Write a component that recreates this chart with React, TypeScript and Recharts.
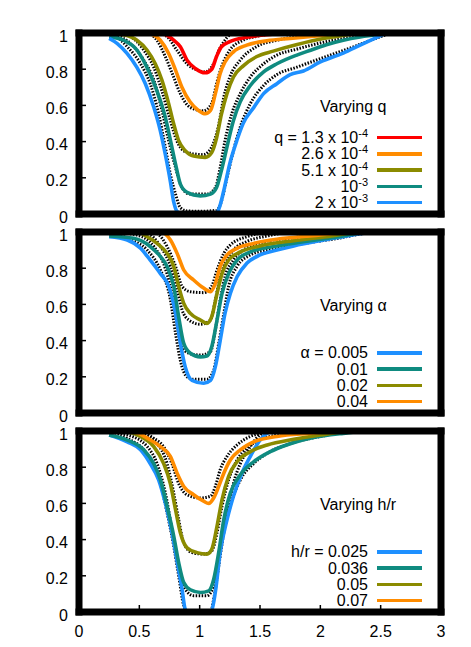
import React from 'react';
import { LineChart, Line, XAxis, YAxis, Legend } from 'recharts';

type Pt = [number, number];

const FONT = '"Liberation Sans", Arial, sans-serif';

const xTicks = [0, 0.5, 1, 1.5, 2, 2.5, 3];
const yTicks = [0, 0.2, 0.4, 0.6, 0.8, 1];

// ---- panel 1: varying q ----
const qTitle = 'Varying q';
const qLabels: [string, string][] = [
  ['q = 1.3 x 10', '-4'],
  ['2.6 x 10', '-4'],
  ['5.1 x 10', '-4'],
  ['10', '-3'],
  ['2 x 10', '-3'],
];
const qColors = ['#ff0000', '#ff8c00', '#8b8b00', '#0f8b80', '#1e90ff'];

const qRed: Pt[] = [[0.25, 1], [0.6, 1], [0.7, 0.995], [0.785, 0.96], [0.84, 0.924], [0.895, 0.85], [0.964, 0.804], [1.046, 0.78], [1.1, 0.8], [1.14, 0.87], [1.18, 0.924], [1.25, 0.952], [1.39, 0.976], [1.6, 0.993], [1.8, 1], [3, 1]];
const qOrange: Pt[] = [[0.25, 1], [0.55, 1], [0.6, 0.995], [0.674, 0.96], [0.743, 0.887], [0.8, 0.795], [0.853, 0.7], [0.92, 0.62], [0.99, 0.572], [1.046, 0.554], [1.09, 0.572], [1.13, 0.665], [1.17, 0.776], [1.21, 0.84], [1.28, 0.896], [1.39, 0.933], [1.557, 0.957], [1.75, 0.97], [2.0, 0.985], [2.25, 1], [3, 1]];
const qOlive: Pt[] = [[0.25, 1], [0.37, 0.99], [0.48, 0.96], [0.563, 0.906], [0.632, 0.83], [0.687, 0.74], [0.743, 0.61], [0.784, 0.5], [0.826, 0.405], [0.88, 0.35], [0.95, 0.32], [1.046, 0.313], [1.1, 0.34], [1.14, 0.42], [1.18, 0.55], [1.226, 0.665], [1.28, 0.757], [1.364, 0.82], [1.474, 0.87], [1.61, 0.9], [1.8, 0.935], [2.05, 0.972], [2.3, 0.995], [2.5, 1], [3, 1]];
const qTeal: Pt[] = [[0.25, 0.98], [0.37, 0.96], [0.48, 0.906], [0.563, 0.81], [0.646, 0.68], [0.715, 0.535], [0.757, 0.41], [0.8, 0.276], [0.84, 0.165], [0.895, 0.12], [1.005, 0.1], [1.09, 0.11], [1.14, 0.146], [1.18, 0.24], [1.226, 0.37], [1.28, 0.517], [1.336, 0.62], [1.42, 0.71], [1.53, 0.785], [1.64, 0.83], [1.805, 0.878], [1.92, 0.905], [2.05, 0.935], [2.19, 0.96], [2.33, 0.978], [2.5, 0.993], [2.6, 1], [3, 1]];
const qBlue: Pt[] = [[0.25, 0.97], [0.315, 0.943], [0.398, 0.887], [0.48, 0.81], [0.55, 0.72], [0.62, 0.59], [0.674, 0.46], [0.715, 0.33], [0.757, 0.18], [0.784, 0.07], [0.81, 0.017], [0.84, 0.003], [1.0, 0], [1.14, 0.005], [1.17, 0.05], [1.2, 0.13], [1.25, 0.28], [1.31, 0.41], [1.36, 0.5], [1.45, 0.59], [1.53, 0.665], [1.64, 0.72], [1.75, 0.77], [1.86, 0.79], [2.0, 0.84], [2.19, 0.889], [2.33, 0.933], [2.5, 0.985], [2.55, 1], [3, 1]];

const qRedFit: Pt[] = [[0.25, 1], [0.65, 1], [0.73, 0.98], [0.81, 0.906], [0.895, 0.83], [0.98, 0.795], [1.046, 0.785], [1.115, 0.83], [1.16, 0.906], [1.2, 0.95], [1.25, 0.99], [1.3, 1], [3, 1]];
const qOrangeFit: Pt[] = [[0.25, 1], [0.56, 1], [0.646, 0.96], [0.715, 0.87], [0.784, 0.757], [0.84, 0.665], [0.92, 0.59], [1.03, 0.57], [1.1, 0.61], [1.14, 0.72], [1.18, 0.81], [1.25, 0.906], [1.36, 0.96], [1.5, 0.985], [1.7, 1], [3, 1]];
const qOliveFit: Pt[] = [[0.25, 1], [0.33, 0.995], [0.425, 0.98], [0.536, 0.906], [0.62, 0.81], [0.687, 0.68], [0.757, 0.517], [0.81, 0.405], [0.895, 0.34], [1.03, 0.328], [1.1, 0.37], [1.16, 0.5], [1.2, 0.646], [1.25, 0.757], [1.336, 0.85], [1.47, 0.924], [1.64, 0.96], [1.9, 0.985], [2.2, 1], [3, 1]];
const qTealFit: Pt[] = [[0.25, 1], [0.3, 0.99], [0.425, 0.943], [0.536, 0.85], [0.62, 0.74], [0.687, 0.572], [0.743, 0.405], [0.8, 0.257], [0.853, 0.146], [0.92, 0.11], [1.06, 0.11], [1.13, 0.146], [1.17, 0.257], [1.21, 0.405], [1.266, 0.554], [1.336, 0.665], [1.42, 0.757], [1.53, 0.83], [1.64, 0.878], [1.8, 0.91], [2.0, 0.945], [2.3, 0.98], [2.6, 1], [3, 1]];
const qBlueFit: Pt[] = [[0.25, 1], [0.29, 0.99], [0.4, 0.924], [0.51, 0.83], [0.59, 0.72], [0.66, 0.554], [0.715, 0.37], [0.757, 0.22], [0.8, 0.11], [0.84, 0.035], [0.895, 0.017], [1.0, 0.015], [1.14, 0.02], [1.18, 0.07], [1.226, 0.2], [1.28, 0.35], [1.336, 0.48], [1.42, 0.61], [1.53, 0.71], [1.64, 0.77], [1.8, 0.81], [2.05, 0.87], [2.3, 0.93], [2.5, 0.98], [2.6, 1], [3, 1]];

// ---- panel 2: varying alpha ----
const aTitle = 'Varying α';
const aLabels: [string, string][] = [
  ['α = 0.005', ''],
  ['0.01', ''],
  ['0.02', ''],
  ['0.04', ''],
];
const aColors = ['#1e90ff', '#0f8b80', '#8b8b00', '#ff8c00'];

const aBlue: Pt[] = [[0.25, 0.974], [0.4, 0.956], [0.51, 0.91], [0.59, 0.845], [0.675, 0.77], [0.744, 0.7], [0.8, 0.55], [0.84, 0.385], [0.88, 0.256], [0.937, 0.18], [1.033, 0.164], [1.09, 0.18], [1.13, 0.256], [1.17, 0.4], [1.21, 0.55], [1.254, 0.66], [1.31, 0.753], [1.39, 0.827], [1.5, 0.873], [1.64, 0.9], [1.78, 0.923], [2.0, 0.952], [2.19, 0.974], [2.33, 0.99], [2.45, 1], [3, 1]];
const aTeal: Pt[] = [[0.25, 0.978], [0.454, 0.965], [0.59, 0.92], [0.675, 0.864], [0.73, 0.81], [0.785, 0.7], [0.826, 0.532], [0.868, 0.385], [0.923, 0.33], [1.006, 0.31], [1.06, 0.315], [1.1, 0.366], [1.144, 0.514], [1.185, 0.66], [1.24, 0.77], [1.31, 0.845], [1.42, 0.89], [1.64, 0.923], [1.917, 0.952], [2.19, 0.978], [2.4, 1], [3, 1]];
const aOlive: Pt[] = [[0.25, 1], [0.48, 1], [0.565, 0.974], [0.647, 0.937], [0.73, 0.882], [0.785, 0.81], [0.826, 0.7], [0.868, 0.606], [0.923, 0.55], [1.006, 0.514], [1.06, 0.495], [1.1, 0.532], [1.144, 0.66], [1.185, 0.77], [1.24, 0.845], [1.337, 0.89], [1.5, 0.923], [1.78, 0.952], [2.05, 0.974], [2.35, 1], [3, 1]];
const aOrange: Pt[] = [[0.25, 1], [0.675, 1], [0.758, 0.956], [0.813, 0.882], [0.868, 0.79], [0.95, 0.735], [1.033, 0.69], [1.09, 0.67], [1.13, 0.716], [1.17, 0.81], [1.227, 0.873], [1.31, 0.91], [1.447, 0.937], [1.64, 0.96], [1.917, 0.978], [2.3, 1], [3, 1]];

const aBlueFit: Pt[] = [[0.25, 1], [0.4, 0.965], [0.565, 0.9], [0.675, 0.79], [0.758, 0.624], [0.8, 0.44], [0.84, 0.29], [0.895, 0.2], [0.95, 0.186], [1.06, 0.186], [1.116, 0.237], [1.158, 0.385], [1.2, 0.55], [1.24, 0.7], [1.31, 0.81], [1.42, 0.873], [1.56, 0.9], [1.8, 0.93], [2.1, 0.96], [2.5, 1], [3, 1]];
const aTealFit: Pt[] = [[0.25, 1], [0.48, 0.983], [0.62, 0.92], [0.7, 0.827], [0.77, 0.66], [0.813, 0.495], [0.854, 0.366], [0.91, 0.33], [1.006, 0.32], [1.09, 0.34], [1.13, 0.46], [1.17, 0.624], [1.21, 0.753], [1.28, 0.845], [1.36, 0.9], [1.5, 0.94], [1.8, 0.97], [2.2, 1], [3, 1]];
const aOliveFit: Pt[] = [[0.25, 1], [0.5, 1], [0.565, 0.993], [0.675, 0.92], [0.758, 0.81], [0.813, 0.68], [0.854, 0.57], [0.91, 0.514], [1.006, 0.49], [1.09, 0.514], [1.13, 0.624], [1.17, 0.753], [1.227, 0.845], [1.28, 0.9], [1.39, 0.947], [1.56, 0.978], [1.8, 1], [3, 1]];
const aOrangeFit: Pt[] = [[0.25, 1], [0.6, 1], [0.65, 0.99], [0.73, 0.92], [0.8, 0.81], [0.854, 0.7], [0.923, 0.67], [1.033, 0.665], [1.1, 0.7], [1.144, 0.79], [1.2, 0.882], [1.254, 0.928], [1.39, 0.974], [1.5, 0.993], [1.6, 1], [3, 1]];

// ---- panel 3: varying h/r ----
const hTitle = 'Varying h/r';
const hLabels: [string, string][] = [
  ['h/r = 0.025', ''],
  ['0.036', ''],
  ['0.05', ''],
  ['0.07', ''],
];
const hColors = ['#1e90ff', '#0f8b80', '#8b8b00', '#ff8c00'];

const hBlue: Pt[] = [[0.25, 0.978], [0.4, 0.94], [0.51, 0.896], [0.59, 0.82], [0.66, 0.73], [0.716, 0.6], [0.77, 0.44], [0.81, 0.29], [0.854, 0.126], [0.88, 0.016], [0.9, 0], [1.08, 0], [1.1, 0.01], [1.13, 0.11], [1.17, 0.33], [1.227, 0.51], [1.28, 0.64], [1.35, 0.767], [1.42, 0.86], [1.5, 0.95], [1.56, 0.987], [1.6, 1], [3, 1]];
const hTeal: Pt[] = [[0.25, 0.978], [0.4, 0.95], [0.537, 0.896], [0.62, 0.82], [0.675, 0.73], [0.73, 0.584], [0.785, 0.42], [0.826, 0.273], [0.868, 0.163], [0.923, 0.123], [1.006, 0.108], [1.075, 0.117], [1.116, 0.18], [1.158, 0.33], [1.2, 0.51], [1.254, 0.657], [1.337, 0.758], [1.447, 0.83], [1.585, 0.886], [1.72, 0.923], [1.917, 0.96], [2.19, 0.987], [2.4, 1], [3, 1]];
const hOlive: Pt[] = [[0.25, 1], [0.4, 0.995], [0.51, 0.97], [0.62, 0.914], [0.702, 0.82], [0.757, 0.71], [0.8, 0.566], [0.84, 0.438], [0.895, 0.355], [0.978, 0.328], [1.06, 0.32], [1.1, 0.346], [1.144, 0.474], [1.185, 0.62], [1.24, 0.75], [1.31, 0.83], [1.42, 0.886], [1.56, 0.923], [1.78, 0.954], [2.0, 0.978], [2.3, 1], [3, 1]];
const hOrange: Pt[] = [[0.25, 1], [0.45, 0.995], [0.592, 0.95], [0.675, 0.914], [0.757, 0.86], [0.813, 0.767], [0.868, 0.694], [0.95, 0.648], [1.033, 0.612], [1.075, 0.6], [1.116, 0.63], [1.158, 0.694], [1.2, 0.767], [1.254, 0.84], [1.337, 0.896], [1.447, 0.94], [1.64, 0.97], [1.917, 0.987], [2.2, 1], [3, 1]];

const hBlueFit: Pt[] = [[0.25, 1], [0.4, 0.96], [0.565, 0.87], [0.675, 0.71], [0.73, 0.548], [0.785, 0.364], [0.826, 0.2], [0.868, 0.035], [0.9, 0], [1.09, 0], [1.116, 0.07], [1.158, 0.255], [1.2, 0.44], [1.24, 0.584], [1.28, 0.71], [1.337, 0.82], [1.42, 0.914], [1.5, 0.978], [1.6, 1], [3, 1]];
const hTealFit: Pt[] = [[0.25, 1], [0.4, 0.98], [0.565, 0.914], [0.647, 0.82], [0.716, 0.657], [0.77, 0.456], [0.826, 0.236], [0.88, 0.126], [0.95, 0.09], [1.06, 0.09], [1.116, 0.145], [1.158, 0.29], [1.21, 0.474], [1.27, 0.62], [1.337, 0.73], [1.447, 0.82], [1.56, 0.877], [1.75, 0.93], [2.0, 0.97], [2.3, 1], [3, 1]];
const hOliveFit: Pt[] = [[0.25, 1], [0.51, 0.99], [0.647, 0.93], [0.73, 0.82], [0.785, 0.657], [0.826, 0.51], [0.868, 0.383], [0.937, 0.328], [1.033, 0.32], [1.1, 0.337], [1.144, 0.438], [1.185, 0.584], [1.24, 0.73], [1.31, 0.84], [1.39, 0.905], [1.5, 0.95], [1.7, 0.985], [1.9, 1], [3, 1]];
const hOrangeFit: Pt[] = [[0.25, 1], [0.53, 0.99], [0.62, 0.96], [0.7, 0.914], [0.77, 0.82], [0.826, 0.71], [0.895, 0.648], [1.006, 0.63], [1.09, 0.64], [1.13, 0.694], [1.17, 0.786], [1.227, 0.86], [1.31, 0.923], [1.42, 0.97], [1.53, 0.99], [1.65, 1], [3, 1]];

const panels = [
  { title: qTitle, labels: qLabels, colors: qColors, curves: [qRed, qOrange, qOlive, qTeal, qBlue], fits: [qRedFit, qOrangeFit, qOliveFit, qTealFit, qBlueFit] },
  { title: aTitle, labels: aLabels, colors: aColors, curves: [aBlue, aTeal, aOlive, aOrange], fits: [aBlueFit, aTealFit, aOliveFit, aOrangeFit] },
  { title: hTitle, labels: hLabels, colors: hColors, curves: [hBlue, hTeal, hOlive, hOrange], fits: [hBlueFit, hTealFit, hOliveFit, hOrangeFit] },
];

const toRows = (pts: Pt[]) => pts.map(([x, y]) => ({ x, y }));

const W = 471;
const TOP_PAD = 33;
const PLOT_H = 181;
const STEP = 199;

const frame = { stroke: '#000', strokeWidth: 7, strokeLinecap: 'square' as const };
const tickMark = { stroke: '#000', strokeWidth: 1.5 };
const tickText = { fill: '#000', fontSize: 16, fontFamily: FONT };

// left-axis labels sit a touch below their tick, as in gnuplot
function YTick(props: any) {
  const { x, y, payload } = props;
  return (
    <text x={x} y={y + 3} dy="0.355em" textAnchor="end" fill="#000" fontSize={16} fontFamily={FONT}>
      {payload.value}
    </text>
  );
}

function Key({ title, labels, colors, height }: { title: string; labels: [string, string][]; colors: string[]; height: number }) {
  return (
    <div style={{ position: 'relative', width: W, height, fontFamily: FONT, fontSize: 16, color: '#000', pointerEvents: 'none' }}>
      <div style={{ position: 'absolute', left: 320, top: 99, lineHeight: '16px', whiteSpace: 'nowrap' }}>{title}</div>
      {labels.map(([base, sup], i) => {
        const cy = 202.5 - (labels.length - 1 - i) * 16.2;
        return (
          <React.Fragment key={i}>
            <div style={{ position: 'absolute', right: W - 368, top: cy - 7.5, lineHeight: '16px', whiteSpace: 'nowrap', textAlign: 'right' }}>
              {base}
              {sup && <span style={{ fontSize: 11, verticalAlign: '6px', lineHeight: 0 }}>{sup}</span>}
            </div>
            <div style={{ position: 'absolute', left: 377, width: 45, top: cy - 1.8, height: 3.6, background: colors[i] }} />
          </React.Fragment>
        );
      })}
    </div>
  );
}

function Panel({ index }: { index: number }) {
  const p = panels[index];
  const last = index === panels.length - 1;
  const bottomH = last ? 35 : 16;
  const height = TOP_PAD + PLOT_H + bottomH;
  return (
    <div style={{ position: 'absolute', left: 0, top: index * STEP, width: W, height }}>
      <LineChart width={W} height={height} margin={{ top: 0, right: 0, bottom: 0, left: 0 }}>
        {p.fits.map((pts, i) => (
          <Line
            key={'fit' + i}
            xAxisId="bottom"
            yAxisId="left"
            data={toRows(pts)}
            dataKey="y"
            type="monotone"
            stroke="#000"
            strokeWidth={3}
            strokeDasharray="1.5 1.5"
            dot={false}
            legendType="none"
            isAnimationActive={false}
          />
        ))}
        {p.curves.map((pts, i) => (
          <Line
            key={'sim' + i}
            xAxisId="bottom"
            yAxisId="left"
            data={toRows(pts)}
            dataKey="y"
            type="monotone"
            stroke={p.colors[i]}
            strokeWidth={3.6}
            dot={false}
            isAnimationActive={false}
          />
        ))}
        <XAxis
          xAxisId="bottom"
          orientation="bottom"
          type="number"
          dataKey="x"
          domain={[0, 3]}
          ticks={xTicks}
          interval={0}
          height={bottomH}
          stroke="#000"
          axisLine={frame}
          tickLine={tickMark}
          tickSize={-7}
          tickMargin={21}
          tick={last ? tickText : false}
        />
        <XAxis
          xAxisId="top"
          orientation="top"
          type="number"
          domain={[0, 3]}
          ticks={xTicks}
          interval={0}
          height={TOP_PAD}
          stroke="#000"
          axisLine={frame}
          tickLine={tickMark}
          tickSize={-7}
          tick={false}
        />
        <YAxis
          yAxisId="left"
          orientation="left"
          type="number"
          domain={[0, 1]}
          ticks={yTicks}
          interval={0}
          width={79}
          stroke="#000"
          axisLine={frame}
          tickLine={tickMark}
          tickSize={-7}
          tickMargin={18}
          tick={<YTick />}
        />
        <YAxis
          yAxisId="right"
          orientation="right"
          type="number"
          domain={[0, 1]}
          ticks={yTicks}
          interval={0}
          width={30}
          stroke="#000"
          axisLine={frame}
          tickLine={tickMark}
          tickSize={-7}
          tick={false}
        />
        <Legend
          layout="vertical"
          align="center"
          verticalAlign="middle"
          wrapperStyle={{ left: 0, top: 0, width: W, height }}
          content={() => <Key title={p.title} labels={p.labels} colors={p.colors} height={height} />}
        />
      </LineChart>
    </div>
  );
}

export default function App() {
  return (
    <div style={{ position: 'absolute', left: 0, top: 0, width: W, height: 647, background: '#fff' }}>
      {panels.map((_, i) => (
        <Panel key={i} index={i} />
      ))}
    </div>
  );
}
